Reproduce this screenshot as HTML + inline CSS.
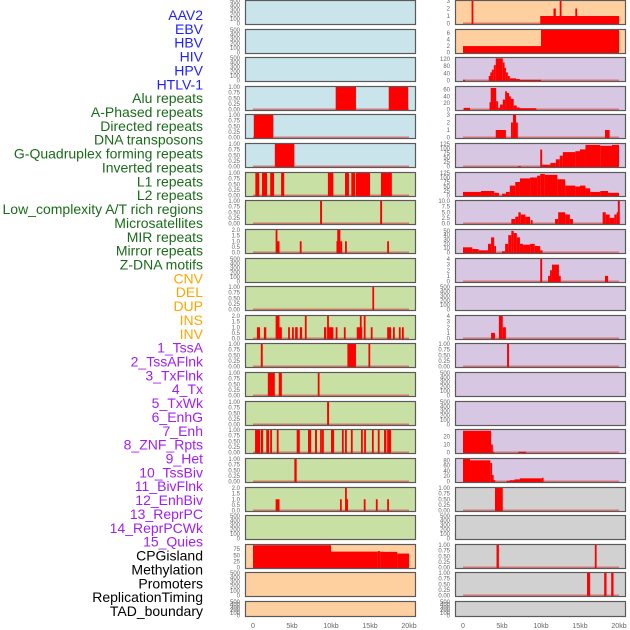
<!DOCTYPE html>
<html><head><meta charset="utf-8"><style>
html,body{margin:0;padding:0;background:#fff;}
svg{display:block;font-family:"Liberation Sans",sans-serif;}
</style></head><body>
<svg id="chart" width="630" height="630" viewBox="0 0 630 630" xmlns="http://www.w3.org/2000/svg"></svg>
<script>
const labels = ["AAV2","EBV","HBV","HIV","HPV","HTLV-1","Alu repeats","A-Phased repeats","Directed repeats","DNA transposons","G-Quadruplex forming repeats","Inverted repeats","L1 repeats","L2 repeats","Low_complexity A/T rich regions","Microsatellites","MIR repeats","Mirror repeats","Z-DNA motifs","CNV","DEL","DUP","INS","INV","1_TssA","2_TssAFlnk","3_TxFlnk","4_Tx","5_TxWk","6_EnhG","7_Enh","8_ZNF_Rpts","9_Het","10_TssBiv","11_BivFlnk","12_EnhBiv","13_ReprPC","14_ReprPCWk","15_Quies","CPGisland","Methylation","Promoters","ReplicationTiming","TAD_boundary"];
const labelGroups = [6,13,5,15,5];
const groupColors = ["#1f1fff","#1a6b1a","#ffa500","#a020f0","#000000"];
const xTicks = [0,5,10,15,20];
const xTickLabels = ["0","5kb","10kb","15kb","20kb"];

const T_empty = ["0","100","200","300","400","500"];
const T_unit = ["0.00","0.25","0.50","0.75","1.00"];
const T_two = ["0.0","0.5","1.0","1.5","2.0"];

const midBg = ["b","b","b","b","b","b","g","g","g","g","g","g","g","g","g","g","g","g","g","p","p","p"];
const midTicks = [T_empty,T_empty,T_empty,T_unit,T_unit,T_unit,T_unit,T_unit,T_two,T_empty,T_unit,T_two,T_unit,T_unit,T_unit,T_unit,T_unit,T_two,T_empty,["0","25","50","75"],T_empty,T_empty];
const midMax = [500,500,500,1,1,1,1,1,2,500,1,2,1,1,1,1,1,2,500,92,500,500];
const midSegs = [
 [],[],[],
 [[10.6,13.2,1],[17.4,19.9,1]],
 [[0.1,2.6,1]],
 [[2.8,5.3,1]],
 [[0.3,0.8,1],[1.15,1.8,1],[2.2,2.7,1],[3.6,4.0,1],[9.6,10.3,1],[11.8,12.3,1],[12.6,13.1,1],[13.2,15.0,1],[16.4,17.8,1]],
 [[8.6,8.85,1],[16.3,16.55,1]],
 [[2.9,3.05,2],[3.05,3.4,1],[6.0,6.15,1],[10.7,10.8,1],[10.8,11.2,2],[11.2,11.35,1],[11.8,11.95,1],[17.2,17.4,1]],
 [],
 [[15.3,15.5,1]],
 [[0.5,0.9,1],[1.4,1.7,1],[2.9,3.4,2],[3.4,3.7,1],[4.5,4.65,1],[5.0,5.15,1],[5.4,5.55,1],[5.5,5.7,1],[6.0,6.3,1],[6.65,6.8,2],[9.1,9.4,1],[9.5,9.6,2],[9.6,10.3,1],[10.6,10.75,1],[11.65,11.8,1],[13.3,14.0,1],[13.7,13.85,2],[14.2,14.35,2],[15.1,15.25,1],[17.2,17.7,1],[17.95,18.1,1],[18.7,18.85,1],[19.1,19.25,1]],
 [[1.0,1.25,1],[12.1,13.2,1],[14.8,15.0,1]],
 [[1.9,2.8,1],[3.3,3.7,1],[8.3,8.45,1]],
 [[9.5,9.75,1]],
 [[0.26,0.9,1],[1.0,1.3,1],[1.7,2.05,1],[2.2,2.3,1],[3.05,3.2,1],[5.6,6.0,1],[7.05,7.45,1],[7.95,8.2,1],[8.6,8.75,1],[8.85,9.0,1],[10.0,10.4,1],[11.4,11.55,1],[11.8,11.95,1],[12.55,12.7,1],[13.85,14.0,1],[14.25,14.4,1],[15.25,15.4,1],[16.0,16.15,1],[16.8,17.1,1],[17.2,17.7,1]],
 [[5.3,5.6,1]],
 [[2.9,3.4,1],[11.15,11.3,1],[11.8,11.95,2],[11.95,12.1,1],[14.2,14.35,1],[15.75,15.9,1],[17.2,17.35,1]],
 [],
 [[0,10,91],[10,16,65],[16,16.3,67],[16.3,18.5,64],[18.5,20,57]],
 [],[]
];

const rightBg = ["p","p","u","u","u","u","u","u","u","u","u","u","u","u","u","u","u","y","y","y","y","y"];
const rightTicks = [["0","1","2","3"],["0","2","4","6"],["0","40","80","120"],["0","20","40","60"],["0","1","2","3"],["0","25","50","75","100","125"],["0","25","50","75","100","125"],["0.0","2.5","5.0","7.5","10.0"],["0","10","20","30","40","50"],["0","1","2","3","4"],T_empty,["0","1","2","3","4"],T_unit,T_empty,T_empty,["0","10","20"],["0","20","40","60","80"],T_unit,T_empty,T_unit,T_unit,T_empty];
const rightMax = [3,7,125,68,3,125,125,10,52,4,500,4,1,500,500,28,85,1,500,1,1,500];
const rightSegs = [
 [[1.1,1.3,3],[9.9,20,1],[11.6,11.9,2],[12.4,12.6,3],[14.4,14.6,2]],
 [[0,10,2],[10,20,7]],
 [[0,0.25,4],[3.3,3.5,25],[3.5,3.7,45],[3.7,3.95,60],[3.95,4.2,85],[4.2,5.1,123],[5.1,5.25,100],[5.25,5.5,70],[5.5,5.75,45],[5.75,6.0,25],[6.0,6.8,12],[6.8,7.3,8],[7.3,10.0,4]],
 [[0.1,0.9,5],[3.4,3.55,22],[3.55,4.25,65],[4.25,4.5,25],[4.5,4.75,5],[4.75,5.1,15],[5.1,5.4,30],[5.4,5.6,55],[5.6,5.9,50],[5.9,6.1,40],[6.1,6.5,32],[6.5,6.9,12],[6.9,7.3,6],[7.3,9.4,4]],
 [[4.2,5.5,1],[6.15,6.4,2],[6.4,6.8,3],[6.8,7.0,2],[18.2,18.8,1]],
 [[7.1,7.4,3],[9.9,10.15,94],[10.15,11.2,10],[11.2,11.9,20],[11.9,12.4,40],[12.4,12.8,60],[12.8,14.4,80],[14.4,15.0,85],[15.0,15.7,95],[15.7,17.6,120],[17.6,19.1,115],[19.1,20,120]],
 [[0,2.3,20],[2.3,4.0,25],[4.0,4.6,15],[5.0,5.5,10],[5.5,6.0,20],[6.0,6.7,55],[6.7,7.3,75],[7.3,8.6,95],[8.6,9.5,100],[9.5,9.9,110],[9.9,10.5,120],[10.5,12.1,115],[12.1,13.1,90],[13.1,14.4,55],[14.4,15.0,50],[15.0,15.7,55],[15.7,16.3,40],[16.3,17.6,20],[17.6,18.6,25],[18.6,20,15]],
 [[6.2,6.7,2],[6.7,7.1,3],[7.1,7.4,5],[7.4,8.0,4],[8.0,8.6,3],[8.7,8.9,1.5],[11.8,12.2,2],[12.2,13.1,5],[13.1,13.7,4],[13.7,14.1,2],[17.9,18.3,5],[18.3,18.8,4],[18.8,19.4,2.5],[19.4,19.7,4],[19.7,19.85,5],[19.85,20.1,10]],
 [[0,1.2,12],[1.2,2.0,8],[2.0,3.2,5],[3.2,3.6,20],[3.6,4.0,35],[4.0,4.2,15],[5.0,5.4,3],[5.4,5.8,20],[5.8,6.2,40],[6.2,6.5,50],[6.5,6.9,45],[6.9,7.3,35],[7.3,7.7,20],[7.7,8.6,18],[8.6,9.2,20],[9.2,9.9,15],[9.9,10.2,5]],
 [[9.9,10.15,4],[10.9,11.15,1],[11.15,11.4,2],[11.4,12.3,3],[12.3,12.4,1],[18.2,18.6,1]],
 [],
 [[3.6,4.1,1],[4.6,5.1,4],[5.1,5.5,2]],
 [[5.65,5.9,1]],
 [],[],
 [[0,3.6,27],[3.6,3.7,10],[3.7,4.0,1],[7.1,8.1,1]],
 [[0,0.9,85],[0.9,3.5,80],[3.5,3.7,70],[3.7,3.9,25],[3.9,4.1,5],[5.6,6.0,3],[6.0,6.6,5],[6.6,7.3,8],[7.3,10.1,12],[10.1,10.3,14]],
 [[4.1,5.1,1]],
 [],
 [[4.3,4.6,1],[16.9,17.05,1]],
 [[15.9,16.3,1],[18.1,18.4,1],[19.0,19.3,1]],
 []
];

const bgColors = {b:"#c9e4eb",g:"#c8e0a4",p:"#ffd09f",u:"#d7c7e3",y:"#d1d1d1"};
const NS = "http://www.w3.org/2000/svg";
const svg = document.getElementById("chart");
function mk(tag, attrs, parent){const e=document.createElementNS(NS,tag);for(const k in attrs)e.setAttribute(k,attrs[k]);(parent||svg).appendChild(e);return e;}

let li=0;
labelGroups.forEach((n,g)=>{for(let j=0;j<n;j++){
  const t=mk("text",{x:203,y:(20+li*13.86).toFixed(1),"text-anchor":"end","font-size":"14",fill:groupColors[g]});
  t.textContent=labels[li];
  
  
  li++;}});

const rowTop = i => Math.round(i*28.62);
const rowH = i => i===21 ? 16 : 25;
function xScale(col,kb){return (col===0?253:463)+kb*7.8;}

function drawPanel(col,i,bg,ticks,ymax,segs){
  const x0 = col===0?245:455, w=171, top=rowTop(i), h=rowH(i);
  const g = mk("g",{});
  
  
  mk("rect",{x:x0,y:top,width:w,height:h,fill:bgColors[bg]},g);
  const y0 = top+h-1.5, yTop = top+1;
  const yS = v => y0 - v/ymax*(y0-yTop);
  const empty = segs.length===0;
  if(!empty){
    mk("line",{x1:xScale(col,0),x2:xScale(col,20),y1:y0,y2:y0,stroke:"#d9534f","stroke-width":2,opacity:0.7},g);
  }
  segs.forEach(s=>{
    const xa=xScale(col,s[0]), xb=xScale(col,s[1]);
    const r=mk("rect",{x:xa.toFixed(2),y:yS(s[2]).toFixed(2),width:Math.max(1.8,xb-xa).toFixed(2),height:(y0-yS(s[2])+0.5).toFixed(2),fill:"#ff0000"},g);
    
    
  });
  mk("rect",{x:x0+0.5,y:top+0.5,width:w-1,height:h-1,fill:"none",stroke:"#5a5a5a","stroke-width":1.2},g);
  ticks.forEach((tl,k)=>{
    const v = parseFloat(tl);
    const yy = yS(v);
    const t=mk("text",{x:x0-5,y:(yy+2).toFixed(1),"text-anchor":"end","font-size":"6",fill:"#666"},g);
    t.textContent=tl;
    
    
  });
}
for(let i=0;i<22;i++){
  drawPanel(0,i,midBg[i],midTicks[i],midMax[i],midSegs[i]);
  drawPanel(1,i,rightBg[i],rightTicks[i],rightMax[i],rightSegs[i]);
}
[0,1].forEach(col=>{
  xTicks.forEach((kb,k)=>{
    const t=mk("text",{x:xScale(col,kb).toFixed(1),y:628,"text-anchor":"middle","font-size":"7",fill:"#666"});
    t.textContent=xTickLabels[k];
    
    
  });
});
</script>
</body></html>
